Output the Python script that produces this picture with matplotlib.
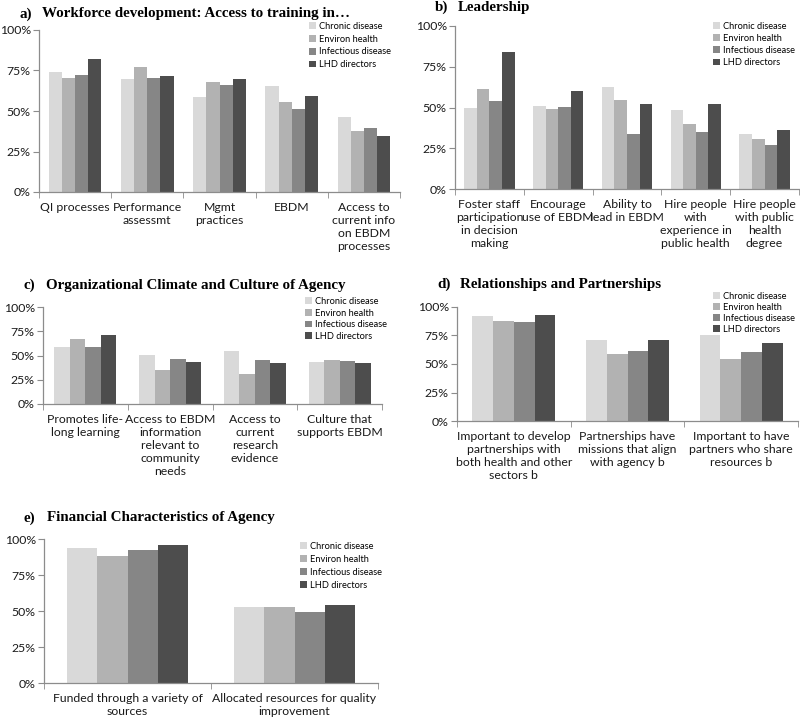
import matplotlib
matplotlib.use("Agg")
import matplotlib.pyplot as plt
import numpy as np
from matplotlib.patches import Patch
from matplotlib.ticker import FixedLocator, PercentFormatter

SERIES = ["Chronic disease", "Environ health", "Infectious disease", "LHD directors"]
COLORS = ["#d9d9d9", "#b2b2b2", "#868686", "#4d4d4d"]

# a) workforce development
A_LABELS = ["QI processes", "Performance\nassessmt", "Mgmt\npractices", "EBDM",
            "Access to\ncurrent info\non EBDM\nprocesses"]
A_CHRONIC = [74.2, 69.7, 58.8, 65.6, 46.0]
A_ENVIRON = [70.3, 77.3, 68.2, 55.7, 37.5]
A_INFECT = [72.2, 70.3, 66.2, 51.1, 39.6]
A_LHD = [82.3, 71.5, 69.9, 59.0, 34.8]

# b) leadership
B_LABELS = ["Foster staff\nparticipation\nin decision\nmaking", "Encourage\nuse of EBDM",
            "Ability to\nlead in EBDM", "Hire people\nwith\nexperience in\npublic health",
            "Hire people\nwith public\nhealth\ndegree"]
B_CHRONIC = [50.0, 50.8, 62.4, 48.4, 33.5]
B_ENVIRON = [61.4, 49.2, 54.9, 39.8, 30.4]
B_INFECT = [53.7, 50.6, 33.9, 34.9, 26.9]
B_LHD = [83.9, 60.4, 52.4, 52.2, 35.9]

# c) organizational climate
C_LABELS = ["Promotes life-\nlong learning", "Access to EBDM\ninformation\nrelevant to\ncommunity\nneeds",
            "Access to\ncurrent\nresearch\nevidence", "Culture that\nsupports EBDM"]
C_CHRONIC = [58.8, 50.9, 55.0, 43.3]
C_ENVIRON = [67.4, 35.4, 30.6, 45.4]
C_INFECT = [58.8, 46.4, 45.4, 44.3]
C_LHD = [71.1, 43.0, 42.6, 41.9]

# d) relationships and partnerships
D_LABELS = ["Important to develop\npartnerships with\nboth health and other\nsectors b",
            "Partnerships have\nmissions that align\nwith agency b",
            "Important to have\npartners who share\nresources b"]
D_CHRONIC = [91.8, 71.3, 75.7]
D_ENVIRON = [87.9, 58.5, 54.7]
D_INFECT = [87.2, 61.4, 60.5]
D_LHD = [92.7, 70.8, 68.4]

# e) financial characteristics
E_LABELS = ["Funded through a variety of\nsources", "Allocated resources for quality\nimprovement"]
E_CHRONIC = [93.8, 52.5]
E_ENVIRON = [88.4, 52.5]
E_INFECT = [92.6, 49.1]
E_LHD = [95.6, 54.4]

W, H = 800, 721
TICK_FONT = "Lato"
AXIS_GREY = "#8c8c8c"


def draw_panel(fig, box, letter, title, title_y, labels, series_values, legend_xy, legend_gap):
    left, top, right, bottom = box
    ax = fig.add_axes([left / W, 1 - bottom / H, (right - left) / W, (bottom - top) / H])
    n = len(labels)
    x = np.arange(n)
    width = 0.73 / 4
    for k, (vals, color) in enumerate(zip(series_values, COLORS)):
        ax.bar(x + (k - 1.5) * width, vals, width=width, color=color, linewidth=0)

    ax.set_xlim(-0.5, n - 0.5)
    ax.set_ylim(0, 100)
    ax.yaxis.set_major_locator(FixedLocator([0, 25, 50, 75, 100]))
    ax.yaxis.set_major_formatter(PercentFormatter(decimals=0))
    ax.set_xticks(x)
    ax.set_xticklabels(labels, fontsize=8.8, family=TICK_FONT, linespacing=1.22, va="top",
                       color="#1a1a1a")
    ax.xaxis.set_minor_locator(FixedLocator(np.arange(n + 1) - 0.5))
    ax.tick_params(axis="x", which="major", length=0, pad=7)
    ax.tick_params(axis="x", which="minor", length=4, color=AXIS_GREY, direction="out")
    ax.tick_params(axis="y", length=4, color=AXIS_GREY, direction="out", pad=2)
    for lab in ax.get_yticklabels():
        lab.set_fontsize(8.8)
        lab.set_family(TICK_FONT)
        lab.set_color("#1a1a1a")

    for side in ("top", "right"):
        ax.spines[side].set_visible(False)
    for side in ("left", "bottom"):
        ax.spines[side].set_color(AXIS_GREY)
        ax.spines[side].set_linewidth(0.9)

    handles = [Patch(facecolor=c, edgecolor="none") for c in COLORS]
    ax.legend(handles, SERIES, loc="upper left",
              bbox_to_anchor=(legend_xy[0] / W, 1 - legend_xy[1] / H),
              bbox_transform=fig.transFigure, frameon=False, borderpad=0,
              borderaxespad=0, handlelength=0.75, handleheight=0.75,
              handletextpad=0.35, labelspacing=legend_gap,
              prop={"family": TICK_FONT, "size": 6.7})

    fig.text((left - 20) / W, 1 - title_y / H, letter, fontsize=10.8, fontweight="bold",
             family="Liberation Serif", va="center", ha="left")
    fig.text((left + 3) / W, 1 - title_y / H, title, fontsize=10.8, fontweight="bold",
             family="Liberation Serif", va="center", ha="left")
    return ax


fig = plt.figure(figsize=(W / 100, H / 100), dpi=100)

draw_panel(fig, (39, 30, 400, 192), "a)", "Workforce development: Access to training in\u2026", 14,
           A_LABELS, [A_CHRONIC, A_ENVIRON, A_INFECT, A_LHD], (309, 22), 0.4)
draw_panel(fig, (455, 26, 799, 189), "b)", "Leadership", 7,
           B_LABELS, [B_CHRONIC, B_ENVIRON, B_INFECT, B_LHD], (713, 22), 0.33)
draw_panel(fig, (43, 307, 382, 404), "c)", "Organizational Climate and Culture of Agency", 285,
           C_LABELS, [C_CHRONIC, C_ENVIRON, C_INFECT, C_LHD], (305, 297), 0.28)
draw_panel(fig, (457, 307, 798, 421), "d)", "Relationships and Partnerships", 284,
           D_LABELS, [D_CHRONIC, D_ENVIRON, D_INFECT, D_LHD], (713, 292), 0.2)
draw_panel(fig, (44, 539, 378, 683), "e)", "Financial Characteristics of Agency", 518,
           E_LABELS, [E_CHRONIC, E_ENVIRON, E_INFECT, E_LHD], (300, 542), 0.42)

fig.savefig("out.png", dpi=100)
